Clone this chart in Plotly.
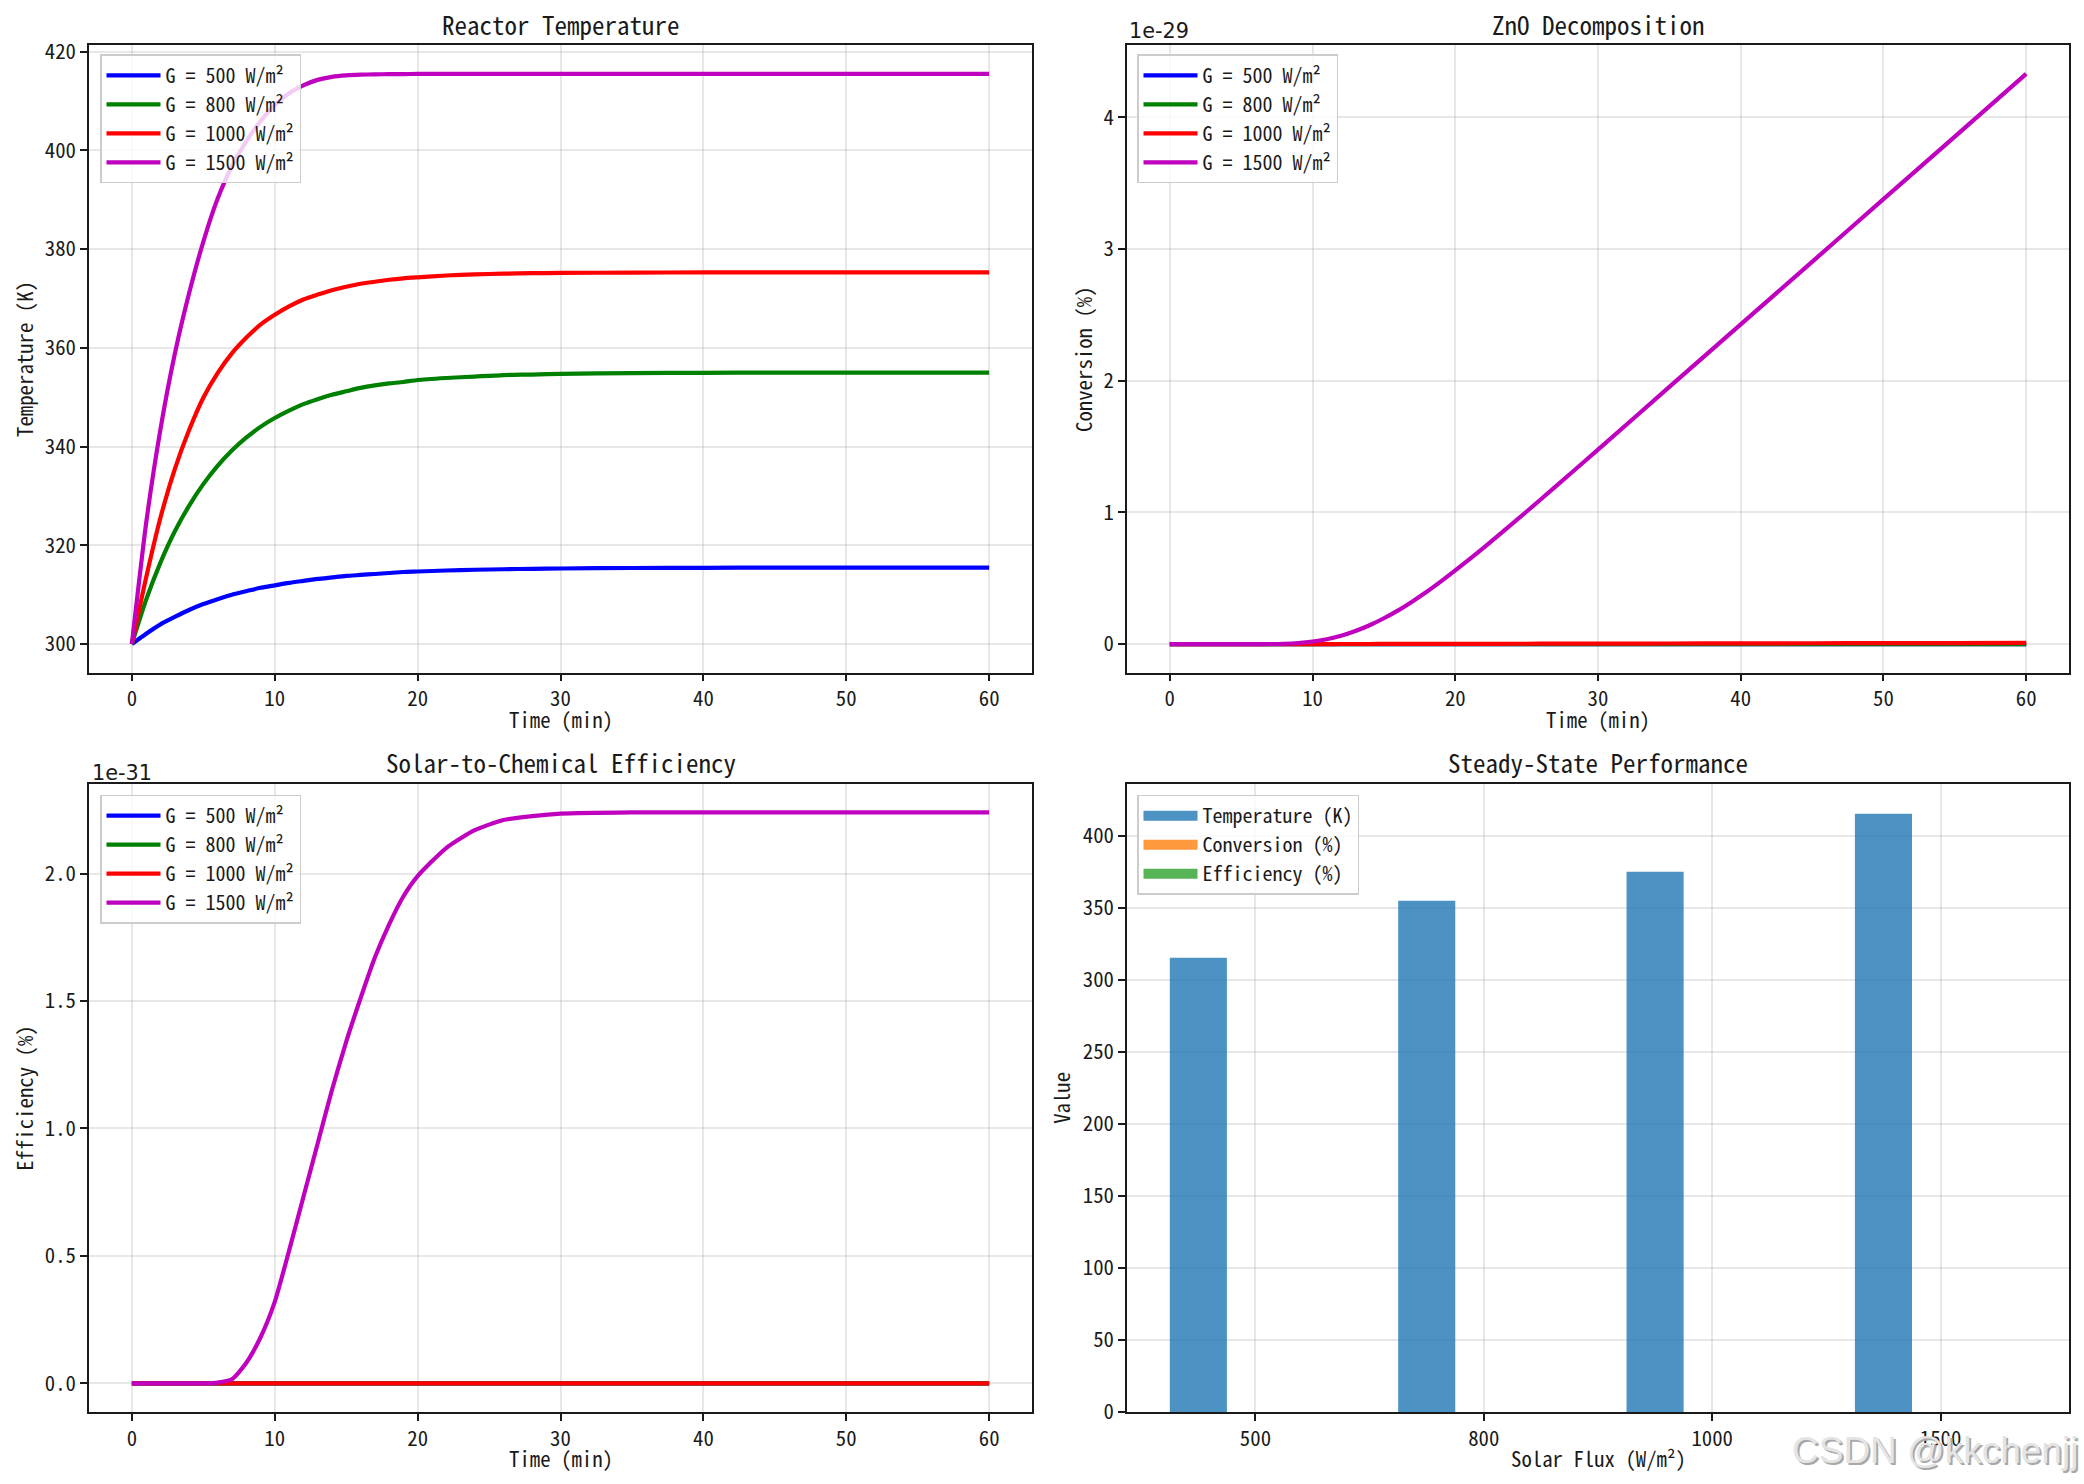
import plotly.graph_objects as go

# ---------------- data ----------------
time_min = [0, 1, 2, 3, 4, 5, 6, 7, 8, 9, 10, 11, 12, 13, 14, 15, 16, 17, 18, 19, 20,
            22, 24, 26, 28, 30, 35, 40, 45, 50, 55, 60]

series_labels = ["G = 500 W/m²", "G = 800 W/m²", "G = 1000 W/m²", "G = 1500 W/m²"]
series_colors = ["#0000ff", "#008000", "#ff0000", "#bf00bf"]

temp_500 = [300.0, 302.1, 304.0, 305.5, 306.9, 308.1, 309.1, 310.0, 310.7, 311.4, 311.9,
            312.4, 312.8, 313.2, 313.5, 313.8, 314.0, 314.2, 314.4, 314.6, 314.7,
            314.9, 315.05, 315.16, 315.25, 315.31, 315.41, 315.45, 315.48, 315.49, 315.5, 315.5]
temp_800 = [300.0, 309.0, 316.5, 322.8, 328.0, 332.4, 336.1, 339.2, 341.8, 344.0, 345.8,
            347.3, 348.6, 349.6, 350.5, 351.2, 351.9, 352.4, 352.8, 353.1, 353.5,
            353.9, 354.2, 354.5, 354.6, 354.74, 354.9, 354.96, 354.98, 355.0, 355.0, 355.0]
temp_1000 = [300.0, 313.5, 325.6, 335.4, 343.3, 349.9, 354.9, 358.9, 362.05, 364.7, 366.7,
             368.4, 369.8, 370.8, 371.7, 372.4, 373.0, 373.4, 373.8, 374.1, 374.3,
             374.67, 374.9, 375.04, 375.13, 375.19, 375.26, 375.29, 375.3, 375.3, 375.3, 375.3]
temp_1500 = [300.0, 324.5, 343.5, 358.7, 371.0, 381.5, 390.2, 396.8, 401.8, 405.9, 409.2,
             411.6, 413.2, 414.3, 414.9, 415.2, 415.35, 415.42, 415.45, 415.48, 415.5,
             415.5, 415.5, 415.5, 415.5, 415.5, 415.5, 415.5, 415.5, 415.5, 415.5, 415.5]

# conversion, in units of 1e-29 %
conv_scale_label = "1e-29"
conv_500 = [0.0] * 32
conv_800 = [0.0] * 32
conv_1000 = [0.0, 0.0, 0.0, 0.0, 0.0, 0.0, 0.0, 0.0, 0.0, 0.0, 0.0,
             0.0001, 0.0003, 0.0004, 0.0006, 0.0008, 0.0009, 0.0011, 0.0012, 0.0014, 0.0015,
             0.0019, 0.0022, 0.0026, 0.0030, 0.0033, 0.0042, 0.0051, 0.0060, 0.0069, 0.0078, 0.0087]
conv_1500 = [0.0, 0.0, 0.0, 0.0, 0.0, 0.0, 0.0, 0.0003, 0.0024, 0.008, 0.019,
             0.037, 0.063, 0.099, 0.143, 0.196, 0.256, 0.324, 0.397, 0.476, 0.559,
             0.733, 0.914, 1.10, 1.288, 1.477, 1.953, 2.428, 2.903, 3.379, 3.854, 4.33]

# efficiency, in units of 1e-31 %
eff_scale_label = "1e-31"
eff_500 = [0.0] * 32
eff_800 = [0.0] * 32
eff_1000 = [0.0] * 32
eff_1500 = [0.0, 0.0, 0.0, 0.0, 0.0, 0.0, 0.003, 0.016, 0.08, 0.18, 0.32,
            0.52, 0.73, 0.94, 1.15, 1.34, 1.51, 1.67, 1.80, 1.91, 1.99,
            2.10, 2.17, 2.21, 2.225, 2.235, 2.24, 2.24, 2.24, 2.24, 2.24, 2.24]

flux_categories = ["500", "800", "1000", "1500"]
ss_temperature = [315.5, 355.0, 375.3, 415.5]
ss_conversion = [0.0, 0.0, 8.7e-32, 4.33e-29]
ss_efficiency = [0.0, 0.0, 0.0, 2.24e-31]
bar_labels = ["Temperature (K)", "Conversion (%)", "Efficiency (%)"]
bar_colors = ["#1f77b4", "#ff7f0e", "#2ca02c"]

# ---------------- layout helpers ----------------
W, H = 2084, 1484
FONT = "Noto Sans Mono CJK SC, Noto Sans CJK SC, DejaVu Sans Mono, monospace"
FS = 20.8
LFS = 20
TFS = 25
INK = "#1a1a1a"
GRID = "rgba(176,176,176,0.3)"


def px(x):
    return x / W


def py(y):
    return 1 - y / H


# axes boxes in pixels: (left, right, top, bottom)
boxes = {
    1: (89, 1032, 36, 673),
    2: (1127, 2069, 36, 673),
    3: (89, 1032, 786, 1424),
    4: (1127, 2069, 786, 1424),
}

fig = go.Figure()

temps = [temp_500, temp_800, temp_1000, temp_1500]
convs = [conv_500, conv_800, conv_1000, conv_1500]
effs = [eff_500, eff_800, eff_1000, eff_1500]

for k, (data, ax, leg) in enumerate([(temps, "", "legend"), (convs, "2", "legend2"), (effs, "3", "legend3")]):
    for i in range(4):
        fig.add_trace(go.Scatter(
            x=time_min, y=data[i], mode="lines", name=series_labels[i],
            line=dict(color=series_colors[i], width=4.2, shape="spline", smoothing=0.6),
            xaxis="x" + ax, yaxis="y" + ax, legend=leg, showlegend=True,
        ))

# bar chart
xpos = list(range(len(flux_categories)))
bw = 0.25
for j, (vals, off) in enumerate([(ss_temperature, -bw), (ss_conversion, 0.0), (ss_efficiency, bw)]):
    fig.add_trace(go.Bar(
        x=[p + off for p in xpos], y=vals, width=bw, name=bar_labels[j],
        marker=dict(color=bar_colors[j], opacity=0.8, line=dict(width=0)),
        xaxis="x4", yaxis="y4", legend="legend4", showlegend=False,
    ))
    # legend entry drawn as a wide patch, like the reference's legend handles
    fig.add_trace(go.Scatter(
        x=[None], y=[None], mode="lines", name=bar_labels[j],
        line=dict(color=bar_colors[j], width=15), opacity=0.8,
        xaxis="x4", yaxis="y4", legend="legend4", showlegend=True,
    ))


def axis_common():
    return dict(
        showline=True, mirror=True, linecolor=INK, linewidth=1.7,
        ticks="outside", ticklen=7, tickwidth=1.7, tickcolor=INK,
        showgrid=True, gridcolor=GRID, gridwidth=1.6, zeroline=False,
        tickfont=dict(family=FONT, size=FS, color=INK),
    )


layout = dict(
    width=W, height=H, margin=dict(l=0, r=0, t=0, b=0),
    paper_bgcolor="white", plot_bgcolor="white",
    font=dict(family=FONT, size=FS, color=INK),
    barmode="overlay",
)

ranges_y = {
    1: ([294.225, 421.275], [300, 320, 340, 360, 380, 400, 420], None),
    2: ([-0.2165, 4.5465], [0, 1, 2, 3, 4], None),
    3: ([-0.112, 2.352], [0.0, 0.5, 1.0, 1.5, 2.0], ["0.0", "0.5", "1.0", "1.5", "2.0"]),
    4: ([0, 436.3], [0, 50, 100, 150, 200, 250, 300, 350, 400], None),
}
for n in range(1, 5):
    l, r, t, b = boxes[n]
    sx = "xaxis" if n == 1 else "xaxis%d" % n
    sy = "yaxis" if n == 1 else "yaxis%d" % n
    anc_y = "y" if n == 1 else "y%d" % n
    anc_x = "x" if n == 1 else "x%d" % n
    xa = axis_common()
    xa.update(domain=[px(l), px(r)], anchor=anc_y)
    if n < 4:
        xa.update(range=[-3, 63], tickvals=[0, 10, 20, 30, 40, 50, 60])
    else:
        xa.update(range=[-0.5625, 3.5625], tickvals=xpos, ticktext=flux_categories)
    ya = axis_common()
    rng, tv, tt = ranges_y[n]
    ya.update(domain=[py(b), py(t)], anchor=anc_x, range=rng, tickvals=tv)
    if tt:
        ya.update(ticktext=tt)
    layout[sx] = xa
    layout[sy] = ya

legend_style = dict(
    bgcolor="rgba(255,255,255,0.8)", bordercolor="#cccccc", borderwidth=1.5,
    font=dict(family=FONT, size=LFS, color=INK), xanchor="left", yanchor="top",
    tracegroupgap=0, itemwidth=54,
)
legpos = {"legend": (100, 45), "legend2": (1137, 45), "legend3": (100, 797), "legend4": (1137, 797)}
for name, (lx, ly) in legpos.items():
    d = dict(legend_style)
    d.update(x=px(lx), y=py(ly))
    layout[name] = d

fig.update_layout(**layout)

ann = []


def text(x, y, s, size=FS, angle=0, xanchor="center", color=INK, family=FONT):
    ann.append(dict(x=px(x), y=py(y), xref="paper", yref="paper", text=s, showarrow=False,
                    xanchor=xanchor, yanchor="middle", textangle=angle,
                    font=dict(family=family, size=size, color=color)))


titles = {1: "Reactor Temperature", 2: "ZnO Decomposition", 3: "Solar-to-Chemical Efficiency",
          4: "Steady-State Performance"}
xlabels = {1: "Time (min)", 2: "Time (min)", 3: "Time (min)", 4: "Solar Flux (W/m²)"}
ylabels = {1: ("Temperature (K)", 24), 2: ("Conversion (%)", 1083), 3: ("Efficiency (%)", 24),
           4: ("Value", 1061)}
for n in range(1, 5):
    l, r, t, b = boxes[n]
    cx = (l + r) / 2
    text(cx, t - 22, titles[n], size=TFS)
    text(cx, b + 47, xlabels[n])
    lab, lxp = ylabels[n]
    text(lxp, (t + b) / 2, lab, angle=-90)

text(1127, 21, conv_scale_label, xanchor="left", family="DejaVu Sans")
text(90, 775, eff_scale_label, xanchor="left", family="DejaVu Sans")

# watermark
text(2082, 1465, "CSDN @kkchenjj", size=37, xanchor="right", color="#a8a8a8", family="Liberation Sans")
text(2080, 1463, "CSDN @kkchenjj", size=37, xanchor="right", color="#e4e4e4", family="Liberation Sans")

fig.update_layout(annotations=ann)
fig.write_html("out.html")
